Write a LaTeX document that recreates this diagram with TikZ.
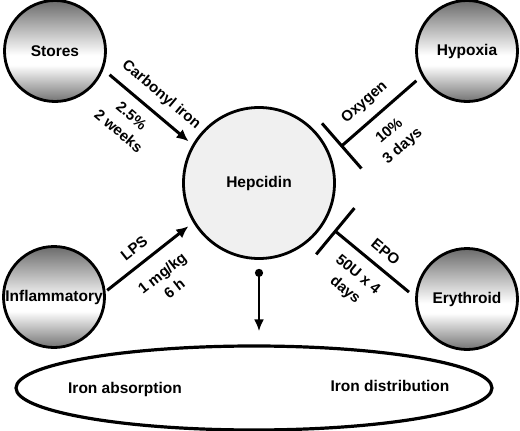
\documentclass[tikz,border=0pt]{standalone}
\usepackage{fontspec}
\setmainfont{Liberation Sans}
\usetikzlibrary{
positioning,
arrows.meta,
shapes.geometric
}
\pgfdeclareverticalshading{orb}{100bp}{
color(0bp)=(black!55);
color(25bp)=(black!55);
color(43bp)=(white);
color(48bp)=(white);
color(75bp)=(black!58);
color(100bp)=(black!58)
}
\tikzset{
ball/.style={
circle,
draw,
line width=2.8pt,
minimum size=101pt,
inner sep=0pt,
shading=orb,
font=\bfseries\fontsize{15.5}{18}\selectfont
},
hub/.style={
circle,
draw,
line width=2.8pt,
minimum size=151pt,
fill=gray!12,
font=\bfseries\fontsize{15.5}{18}\selectfont
},
pool/.style={
ellipse,
draw,
line width=3.2pt,
minimum width=476pt,
minimum height=84pt
},
lbl/.style={
font=\bfseries\fontsize{15}{20}\selectfont,
align=center
},
act/.style={
-{Latex[length=12pt,width=11pt]},
line width=3pt
},
inh/.style={
-{Bar[width=60pt]},
line width=3pt
}
}
\begin{document}
\begin{tikzpicture}[x=1pt,y=-1pt]
\useasboundingbox (0,0) rectangle (520,431);
\node[ball] (sto) at (55,51) {Stores};
\node[ball] (hyp) at (467,51) {Hypoxia};
\node[ball] (inf) at (54,297) {Inflammatory};
\node[ball] (ery) at (467,299) {Erythroid};
\node[hub] (hep) at (259,183) {Hepcidin};
\node[pool] (ell) at (254,388) {};
\node[lbl, font=\bfseries\fontsize{15.5}{18}\selectfont] (abs) at (125,389) {Iron absorption};
\node[lbl, font=\bfseries\fontsize{15.5}{18}\selectfont] (dis) at (390,386) {Iron distribution};

\draw[act, shorten <=8pt, shorten >=5pt] (sto.-21) -- (hep.150)
node[lbl, pos=0.52, sloped, above=6pt] {Carbonyl iron}
node[lbl, pos=0.44, sloped, below=7pt] {2.5\%\\2 weeks};
\draw[act, shorten <=2pt, shorten >=6pt] (inf.6) -- (hep.-149)
node[lbl, pos=0.44, sloped, above=6pt] {LPS}
node[lbl, pos=0.5, sloped, below=10pt] {1 mg/kg\\6 h};
\draw[inh, shorten <=7pt, shorten >=13pt] (hyp.-151) -- (hep.21)
node[lbl, pos=0.5, sloped, above=6pt] {Oxygen}
node[lbl, pos=0.5, sloped, below=9pt] {10\%\\3 days};
\draw[inh, shorten <=8pt, shorten >=12pt] (ery.178) -- (hep.-31)
node[lbl, pos=0.44, sloped, above=6pt] {EPO}
node[lbl, pos=0.5, sloped, below=8pt] {50U x 4\\days};
\draw[{Circle[length=8pt]}-{Latex[length=12pt,width=10pt]}, line width=2.5pt, shorten <=9pt, shorten >=13pt] (hep.south) -- (hep.south |- ell.north);
\end{tikzpicture}
\end{document}
